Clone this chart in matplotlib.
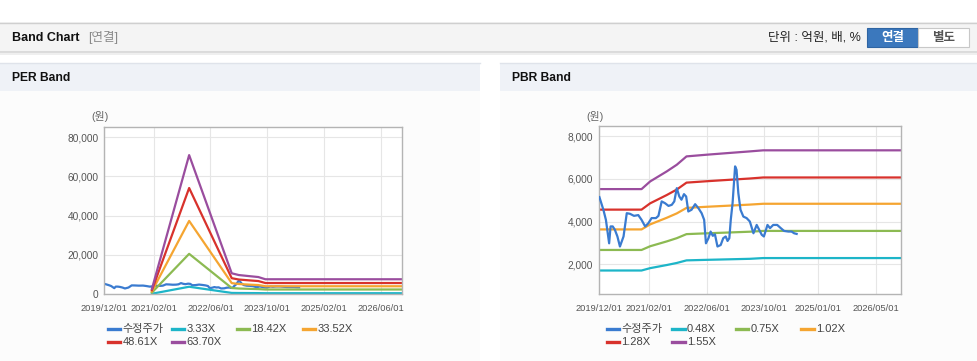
import matplotlib
matplotlib.use("Agg")
import matplotlib.pyplot as plt
from matplotlib.patches import Rectangle
from matplotlib.lines import Line2D

plt.rcParams['font.family'] = ['Liberation Sans', 'Noto Sans CJK KR', 'DejaVu Sans']

W, H = 978, 361

# ---------------- data ----------------
# x positions are months since 2019/12/01
price_months = [0.2, 1.3, 2.0, 2.9, 3.3, 3.9, 4.5, 5.2, 5.9, 6.9, 7.8, 8.7, 9.8, 11.0, 11.9,
                12.9, 13.8, 14.7, 15.9, 16.6, 17.5, 18.4, 19.4, 20.3, 21.0, 21.7, 22.4, 23.0,
                23.7, 24.3, 24.9, 25.8, 26.8, 27.7, 28.6, 29.3, 29.8, 30.5, 31.1, 31.7, 32.3,
                33.0, 33.9, 34.6, 35.3, 35.8, 36.3, 36.7, 37.2, 37.9, 38.3, 38.8, 39.4, 40.2,
                41.1, 42.0, 43.0, 43.9, 44.6, 45.3, 45.9, 46.9, 47.6, 48.5, 49.6, 50.6, 51.5,
                52.7, 53.6, 54.3, 55.0]
price_values = [5140, 4550, 4080, 2980, 3770, 3770, 3610, 3300, 2830, 3300, 4390, 4360, 4265,
                4300, 4080, 3770, 3920, 4160, 4160, 4265, 4940, 4860, 4730, 4780, 4940, 5560,
                5170, 5020, 5280, 5170, 4470, 4550, 4810, 4625, 4390, 4080, 2980, 3220, 3530,
                3330, 3400, 2830, 2900, 3220, 3300, 3090, 3220, 4080, 4860, 6580, 6420, 5330,
                4550, 4230, 4160, 4000, 3450, 3840, 3610, 3380, 3300, 3840, 3690, 3840, 3840,
                3690, 3560, 3530, 3530, 3450, 3420]

per_labels = ['3.33X', '18.42X', '33.52X', '48.61X', '63.70X']
per_band_months = [13.5, 24.0, 36.0, 38.0, 41.0, 43.5, 45.5, 84.0]
per_band_333 = [130, 3710, 550, 510, 480, 450, 400, 400]
per_band_1842 = [740, 20500, 3060, 2800, 2630, 2500, 2300, 2300]
per_band_3352 = [1340, 37310, 5560, 5100, 4790, 4560, 3960, 3960]
per_band_4861 = [1940, 54100, 8070, 7390, 6950, 6610, 5600, 5600]
per_band_6370 = [2550, 70900, 10570, 9680, 9110, 8660, 7520, 7520]

pbr_labels = ['0.48X', '0.75X', '1.02X', '1.28X', '1.55X']
pbr_band_months = [0, 11.9, 14.3, 18.9, 21.7, 24.4, 30, 36, 42, 45.7, 84]
pbr_band_048 = [1708, 1708, 1819, 1964, 2061, 2182, 2207, 2231, 2255, 2290, 2290]
pbr_band_075 = [2669, 2669, 2843, 3069, 3221, 3410, 3448, 3485, 3523, 3560, 3560]
pbr_band_102 = [3630, 3630, 3866, 4174, 4380, 4637, 4689, 4740, 4791, 4830, 4830]
pbr_band_128 = [4556, 4556, 4851, 5238, 5496, 5819, 5884, 5948, 6012, 6060, 6060]
pbr_band_155 = [5516, 5516, 5875, 6343, 6656, 7046, 7125, 7203, 7280, 7330, 7330]

per_xticks = ['2019/12/01', '2021/02/01', '2022/06/01', '2023/10/01', '2025/02/01', '2026/06/01']
pbr_xticks = ['2019/12/01', '2021/02/01', '2022/06/01', '2023/10/01', '2025/01/01', '2026/05/01']
per_yticks = [0, 20000, 40000, 60000, 80000]
pbr_yticks = [2000, 4000, 6000, 8000]

colors = ['#3a7bd0', '#1db5c8', '#8cba52', '#f5a531', '#d8322c', '#9a4d9e']
price_label = '수정주가'


def month_of(s):
    y, m, _ = s.split('/')
    return (int(y) - 2019) * 12 + int(m) - 12


def fx(px):
    return px / W


def fy(py):
    return 1 - py / H


fig = plt.figure(figsize=(W / 100, H / 100), dpi=100)
fig.patch.set_facecolor('white')


def rect(x0, y0, x1, y1, fc, ec='none', lw=0, z=0):
    fig.patches.append(Rectangle((fx(x0), fy(y1)), fx(x1 - x0), (y1 - y0) / H,
                                 transform=fig.transFigure, facecolor=fc, edgecolor=ec,
                                 linewidth=lw, zorder=z))


def hline(x0, x1, y, color, lw=1):
    fig.lines.append(Line2D([fx(x0), fx(x1)], [fy(y), fy(y)], transform=fig.transFigure,
                            color=color, linewidth=lw, zorder=1))


# header bar
rect(0, 22, 978, 52, '#f4f4f4')
hline(0, 978, 22.5, '#cfcfcf', 1)
hline(0, 978, 52, '#d6d6d6', 1.2)
hline(0, 978, 53.5, '#ececec', 1.2)
fig.text(fx(12), fy(38), 'Band Chart', fontsize=9, fontweight='bold', color='#111', va='center')
fig.text(fx(88), fy(38), '[연결]', fontsize=9, color='#8a8a8a', va='center')
fig.text(fx(861), fy(38), '단위 : 억원, 배, %', fontsize=9, color='#222', va='center', ha='right')
rect(867, 28, 918, 47, '#3b78bd', ec='#2f65a3', lw=0.8, z=2)
rect(918, 28, 969, 47, '#ffffff', ec='#c8c8c8', lw=0.8, z=2)
fig.text(fx(892.5), fy(37.8), '연결', fontsize=9, fontweight='bold', color='white',
         va='center', ha='center', zorder=3)
fig.text(fx(943.5), fy(37.8), '별도', fontsize=9, fontweight='bold', color='#555',
         va='center', ha='center', zorder=3)

# panels
for (x0, x1, title) in [(0, 480, 'PER Band'), (500, 978, 'PBR Band')]:
    rect(x0, 91, x1, 361, '#fcfcfc')
    rect(x0, 63, x1, 91, '#eff2f7')
    hline(x0, x1, 63, '#dfe3ea', 1)
    fig.text(fx(x0 + 12), fy(78), title, fontsize=8.7, fontweight='bold', color='#111', va='center')


def setup_axes(box, xticks, yticks, ylim):
    l, r, t, b = box
    ax = fig.add_axes([fx(l), fy(b), (r - l) / W, (b - t) / H])
    ax.set_zorder(5)
    ax.set_facecolor('white')
    ax.set_xlim(0, 84)
    ax.set_ylim(*ylim)
    ax.set_xticks([month_of(s) for s in xticks])
    ax.set_xticklabels(xticks)
    ax.set_yticks(yticks)
    ax.set_yticklabels([f'{v:,}' for v in yticks])
    ax.tick_params(axis='x', length=0, pad=7, labelsize=6.7, labelcolor='#555')
    ax.tick_params(axis='y', length=0, pad=4, labelsize=7.3, labelcolor='#555')
    ax.grid(True, color='#e6e6e6', linewidth=0.8)
    ax.set_axisbelow(True)
    for s in ax.spines.values():
        s.set_color('#b4b4b4')
        s.set_linewidth(1)
    return ax


def legend(x_starts, rows_y, labels):
    for i, (lab, col) in enumerate(zip(labels, colors)):
        row = i // 4
        xs = x_starts[i % 4]
        y = rows_y[row]
        fig.lines.append(Line2D([fx(xs), fx(xs + 12)], [fy(y), fy(y)], transform=fig.transFigure,
                                color=col, linewidth=2.4, zorder=6))
        fig.text(fx(xs + 14.5), fy(y), lab, fontsize=8, color='#444', va='center', zorder=6)


# PER
ax1 = setup_axes((104, 402, 127, 294), per_xticks, per_yticks, (0, 85250))
ax1.plot(price_months, price_values, color=colors[0], lw=1.6)
for vals, col in zip([per_band_333, per_band_1842, per_band_3352, per_band_4861, per_band_6370],
                     colors[1:]):
    ax1.plot(per_band_months, vals, color=col, lw=1.6)
fig.text(fx(100), fy(117), '(원)', fontsize=7.8, color='#666', ha='center', va='center', zorder=6)
legend([108, 172, 237, 303], [329, 342], [price_label] + per_labels)

# PBR
ax2 = setup_axes((598.7, 901, 126, 294), pbr_xticks, pbr_yticks, (609, 8468))
ax2.plot(price_months, price_values, color=colors[0], lw=1.6, zorder=3)
for vals, col in zip([pbr_band_048, pbr_band_075, pbr_band_102, pbr_band_128, pbr_band_155],
                     colors[1:]):
    ax2.plot(pbr_band_months, vals, color=col, lw=1.6, zorder=2)
fig.text(fx(595), fy(117), '(원)', fontsize=7.8, color='#666', ha='center', va='center', zorder=6)
legend([607, 672.5, 736.5, 801.5], [329, 342], [price_label] + pbr_labels)

fig.savefig('out.png', dpi=100)
